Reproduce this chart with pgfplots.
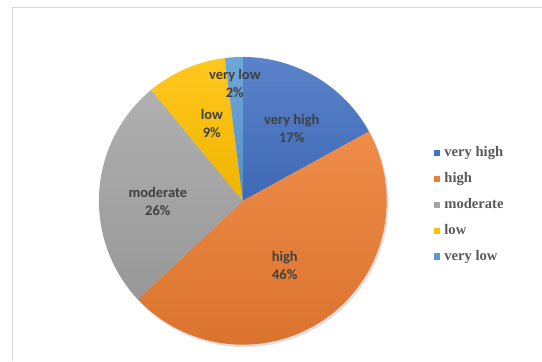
\documentclass[border=0pt]{standalone}
\usepackage{pgfplots}
\pgfplotsset{compat=1.18}
\usepackage{fontspec}
\setmainfont{Liberation Serif}
\newfontfamily\carlito{Carlito}
\definecolor{vhigh}{HTML}{4472C4}
\definecolor{high}{HTML}{ED7D31}
\definecolor{moder}{HTML}{A5A5A5}
\definecolor{lowc}{HTML}{FFC000}
\definecolor{vlow}{HTML}{5B9BD5}
\definecolor{lbl}{HTML}{404040}
\definecolor{legtext}{HTML}{595959}
\definecolor{frame}{HTML}{D9D9D9}
\begin{document}
\begin{tikzpicture}
\begin{axis}[
  width=542bp, height=361bp, scale only axis,
  xmin=0, xmax=542, ymin=0, ymax=361,
  hide axis, clip=false, samples=90,
  legend style={at={(axis cs:434,214.5)}, anchor=north west, draw=none, fill=none,
    inner sep=0pt, outer sep=0pt, row sep=13bp,
    font=\fontsize{14.6bp}{16bp}\selectfont\bfseries, text=legtext,
    nodes={inner sep=0pt, text height=10bp, text depth=3bp}},
  legend cell align=left,
  legend image code/.code={\fill[#1, draw=none] (0bp,-3.3bp) rectangle (6.7bp,3.3bp);
    \path[draw=none, fill=none] (0bp,0bp) rectangle (10.8bp,0.1bp);},
]
% bounding box
\path (rel axis cs:0,0) rectangle (rel axis cs:1,1);
% chart frame
\addplot[draw=frame, line width=0.9pt, forget plot] coordinates {(12.5,0) (12.5,353.5) (542,353.5)};
% shadow
\addplot[fill=black, fill opacity=0.12, draw=none, domain=0:360, forget plot]
  ({244.5+144.5*cos(x)},{158+144.5*sin(x)});
% slices: 17, 46, 26, 9, 2 percent, clockwise from the top
\addplot[top color=vhigh!88!white, bottom color=vhigh!92!black, draw=none, domain=28.8:90, forget plot]
  ({243+144*cos(x)},{160+144*sin(x)}) -- (axis cs:243,160) -- cycle;
\addplot[top color=high!88!white, bottom color=high!92!black, draw=none, domain=-136.8:28.8, forget plot]
  ({243+144*cos(x)},{160+144*sin(x)}) -- (axis cs:243,160) -- cycle;
\addplot[top color=moder!88!white, bottom color=moder!92!black, draw=none, domain=-230.4:-136.8, forget plot]
  ({243+144*cos(x)},{160+144*sin(x)}) -- (axis cs:243,160) -- cycle;
\addplot[top color=lowc!88!white, bottom color=lowc!94!black, draw=none, domain=-262.8:-230.4, forget plot]
  ({243+144*cos(x)},{160+144*sin(x)}) -- (axis cs:243,160) -- cycle;
\addplot[top color=vlow!88!white, bottom color=vlow!92!black, draw=none, domain=-270:-262.8, forget plot]
  ({243+144*cos(x)},{160+144*sin(x)}) -- (axis cs:243,160) -- cycle;
% labels
\begin{scope}[every node/.style={align=center, text=lbl,
  font=\carlito\bfseries\fontsize{14.5bp}{18bp}\selectfont}]
\node at (axis cs:292,232) {very high\\17\%};
\node at (axis cs:285,95) {high\\46\%};
\node at (axis cs:158,159) {moderate\\26\%};
\node at (axis cs:212,237) {low\\9\%};
\node at (axis cs:235,277) {very low\\2\%};
\end{scope}
% legend
\addlegendimage{fill=vhigh}\addlegendentry{very high}
\addlegendimage{fill=high}\addlegendentry{high}
\addlegendimage{fill=moder}\addlegendentry{moderate}
\addlegendimage{fill=lowc}\addlegendentry{low}
\addlegendimage{fill=vlow}\addlegendentry{very low}
\end{axis}
\end{tikzpicture}
\end{document}
